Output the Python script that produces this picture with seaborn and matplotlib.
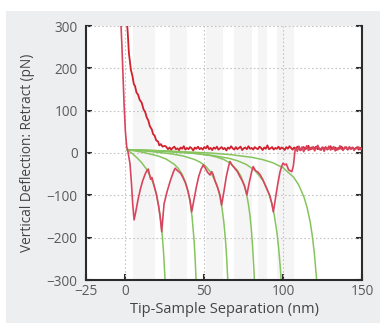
import matplotlib
matplotlib.use("Agg")
import matplotlib.pyplot as plt
import numpy as np
import pandas as pd
import seaborn as sns
from matplotlib.patches import Rectangle

# =========================================
# DATA
# =========================================

# approach trace: steep contact part, then noisy baseline
approach_x = [0.8, 1.5, 2.2, 2.9, 3.5, 4.5, 5.3, 6.1, 7.0, 8.0, 9.0, 10.3, 11.5,
              12.5, 13.5, 14.5, 15.5, 16.7, 17.5, 18.5, 19.5, 20.7, 21.5, 22.5,
              23.5, 25.0]
approach_y = [320, 282, 236, 214, 196, 181, 163, 158, 143, 138, 126, 119, 103,
              97, 84, 77, 63, 56, 45, 41, 30, 27, 18, 21, 15, 17]
approach_base_y = [
    14, 9, 13, 8, 12, 15, 9, 11, 7, 13, 10, 16, 8, 12, 9, 14, 11, 6, 13, 10,
    15, 9, 12, 8, 14, 11, 17, 9, 12, 7, 13, 10, 15, 8, 11, 14, 9, 12, 6, 13,
    10, 16, 11, 8, 14, 9, 12, 15, 7, 11, 13, 9, 16, 10, 12, 8, 14, 11, 9, 15,
    12, 7, 13, 10, 18, 9, 11, 14, 8, 12, 10, 15, 9, 13, 11, 7, 14, 10, 16, 12,
    8, 13, 9, 15, 11, 6, 12, 14, 9, 11, 17, 8, 13, 10, 12, 15, 9, 11, 7, 13,
    10, 14, 8, 12, 16, 9, 11, 13, 7, 12, 10, 15, 9, 11, 14, 8, 12, 10, 13, 9,
    11, 14, 8, 12, 10,
]

# retract trace: sawtooth of unfolding events
retract_x = [-3.0, -2.2, -1.5, -0.8, 0.0, 0.8, 1.5, 2.2, 2.9, 3.8, 4.6, 5.5,
             6.5, 8.0, 9.5, 11.0, 12.5, 13.5, 14.5, 15.2, 16.0, 16.8, 18.0,
             19.6, 21.0, 22.0, 23.0, 24.5, 26.5, 28.5, 30.5, 31.5, 32.5, 34.0,
             35.0, 36.5, 38.0, 39.5, 41.0, 42.0, 43.5, 45.0, 46.5, 48.0, 49.4,
             50.5, 52.0, 53.6, 54.7, 55.5, 57.0, 58.5, 60.0, 61.0, 62.5, 64.0,
             65.5, 66.3, 67.5, 69.0, 71.0, 72.5, 74.0, 75.5, 77.0, 78.5, 80.0,
             81.0, 82.5, 84.0, 85.5, 87.0, 88.5, 90.0, 91.5, 92.8, 93.8, 95.0,
             96.5, 98.0, 99.2, 100.0, 101.0, 102.0, 103.5, 105.5, 106.5, 107.5]
retract_y = [320, 250, 180, 110, 50, 15, 5, -10, -25, -70, -120, -158,
             -140, -110, -85, -65, -50, -42, -38, -50, -62, -58, -75,
             -97, -125, -150, -186, -120, -90, -65, -44, -36, -40, -45,
             -48, -58, -70, -88, -112, -139, -110, -80, -55, -38, -28,
             -35, -45, -52, -44, -50, -68, -82, -100, -123, -90, -55,
             -30, -20, -28, -35, -44, -55, -65, -78, -99, -70, -45,
             -32, -42, -45, -52, -62, -75, -88, -100, -119, -139, -110,
             -75, -45, -30, -24, -28, -26, -40, -44, -30, 5]
retract_base_y = [
    12, 4, 16, 7, 14, 3, 11, 17, 6, 13, 9, 15, 5, 12, 18, 8, 10, 14, 4, 13,
    9, 16, 7, 11, 15, 5, 12, 8, 17, 10, 6, 14, 11, 8, 15, 9, 13, 6, 12, 10,
    14, 8, 11,
]

# worm-like-chain fit curves (one per unfolding peak)
fit_x = [
    [1.0, 4.1, 7.2, 10.3, 13.4, 16.5, 18.05, 19.6, 21.15, 22.7, 23.48, 24.25,
     25.03, 25.8],
    [1.0, 11.0, 21.0, 26.0, 31.0, 33.5, 36.0, 38.5, 39.75, 41.0, 42.25, 43.5,
     44.25, 45.0],
    [1.0, 15.2, 29.4, 36.5, 43.6, 47.15, 50.7, 54.25, 57.8, 59.58, 61.35,
     62.4, 63.48, 64.19, 64.9, 65.61],
    [1.0, 18.5, 36.0, 44.75, 53.5, 57.9, 62.25, 66.6, 71.0, 73.2, 75.4, 76.7,
     78.0, 78.9, 79.75, 80.6, 81.5, 82.4],
    [1.0, 22.6, 44.2, 55.0, 65.8, 71.2, 76.6, 82.0, 87.4, 90.1, 92.8, 94.4,
     96.04, 97.1, 98.2, 99.3],
    [1.0, 27.4, 53.8, 67.0, 80.2, 86.8, 93.4, 100.0, 106.6, 109.9, 113.2,
     115.2, 117.2, 118.5, 119.8, 121.1, 122.4],
]
fit_y = [
    [8, -0.7, -10.8, -22.8, -38.4, -60.8, -76.4, -97.2, -126.2, -169.5, -200,
     -239.5, -292.5, -366],
    [8, 1.8, -7.4, -14.75, -26.8, -36.4, -50.7, -73.9, -91.4, -115.8, -151,
     -205, -252.8, -319.4],
    [8, 3.9, -2.1, -7, -15, -21.3, -30.7, -46, -73.6, -96.9, -132.5, -164,
     -207.9, -247.6, -299.8, -370],
    [8, 5.5, 1.9, -1, -5.8, -9.6, -15.2, -24.4, -41, -54.9, -76.3, -95.2,
     -121.5, -145.4, -176.7, -219, -278, -364],
    [8, 4.3, -1.2, -5.6, -12.8, -18.5, -27, -40.8, -65.8, -86.8, -119, -147.5,
     -187.2, -223, -270, -334],
    [8, 4.7, -0.1, -4, -10.3, -15.4, -22.9, -35, -57, -75.6, -104, -129, -164,
     -196, -237.5, -293.6, -372],
]

# light vertical shading bands in the plot background (nm)
band_spans = [(5, 19), (28, 39), (51, 62), (69, 80), (84, 90), (96, 107)]

x_ticks = [-25, 0, 50, 100, 150]
y_ticks = [-300, -200, -100, 0, 100, 200, 300]

# =========================================
# BUILD TABLES
# =========================================

approach = pd.DataFrame({
    "x": approach_x + list(np.arange(26, 151)),
    "y": approach_y + approach_base_y,
})

retract = pd.DataFrame({
    "x": retract_x + list(np.arange(108, 151)),
    "y": retract_y + retract_base_y,
})

fits = pd.concat([
    pd.DataFrame({"x": fx, "y": fy, "fit": i})
    for i, (fx, fy) in enumerate(zip(fit_x, fit_y))
])

# =========================================
# PLOT
# =========================================

sns.set_style("white")
plt.rcParams["font.family"] = ["Open Sans", "DejaVu Sans"]

fig = plt.figure(figsize=(3.87, 3.23), dpi=100)
fig.patch.set_facecolor("white")
fig.patches.append(Rectangle(
    (6 / 387, 0), 374 / 387, 1 - 11 / 323,
    transform=fig.transFigure, facecolor="#eceef0", edgecolor="none", zorder=-5
))

ax = fig.add_axes([86 / 387, 1 - 280 / 323, 276 / 387, 254 / 323])
ax.set_zorder(1)
ax.set_facecolor("white")

for a, b in band_spans:
    ax.axvspan(a, b, color="#f5f5f5", lw=0, zorder=0)

for xv in [0, 50, 100]:
    ax.axvline(xv, color="#c4c4c4", lw=0.8, ls=(0, (1.5, 2)), zorder=1)
for yv in [-200, -100, 0, 100, 200, 300]:
    ax.axhline(yv, color="#c4c4c4", lw=0.8, ls=(0, (1.5, 2)), zorder=1)

sns.lineplot(
    data=fits, x="x", y="y", units="fit", estimator=None, sort=False,
    color="#86c45e", lw=1.1, ax=ax, zorder=2
)
sns.lineplot(
    data=approach, x="x", y="y", estimator=None, sort=False,
    color="#d2202c", lw=1.3, ax=ax, zorder=3
)
sns.lineplot(
    data=retract, x="x", y="y", estimator=None, sort=False,
    color="#d8455f", lw=1.2, ax=ax, zorder=4
)

ax.set_xlim(-25, 150)
ax.set_ylim(-300, 300)
ax.set_xticks(x_ticks)
ax.set_yticks(y_ticks)

ax.spines["top"].set_visible(False)
for side in ["left", "right", "bottom"]:
    ax.spines[side].set_color("#2b2b2b")
    ax.spines[side].set_linewidth(1.5)

ax.tick_params(
    axis="both", direction="in", length=4, width=1.5, color="#2b2b2b",
    labelsize=9.8, labelcolor="#5a5a5a"
)
ax.tick_params(axis="y", right=True, left=True, pad=6)
ax.tick_params(axis="x", bottom=True, pad=3)

ax.set_xlabel("Tip-Sample Separation (nm)", fontsize=10.5, color="#444444",
              labelpad=2)
ax.set_ylabel("Vertical Deflection: Retract (pN)", fontsize=9.8,
              color="#444444", labelpad=8)

fig.savefig("out.png", dpi=100, facecolor=fig.get_facecolor())
